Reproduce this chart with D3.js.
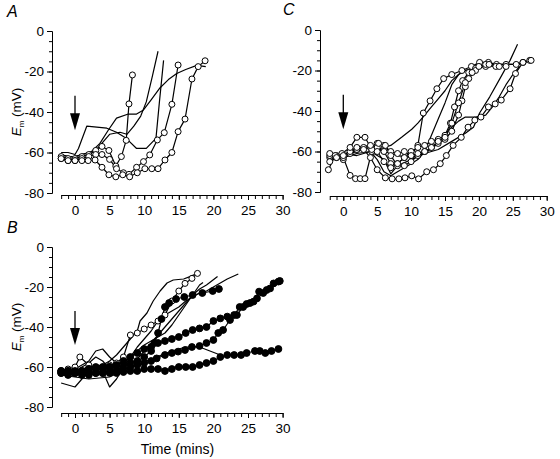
<!DOCTYPE html>
<html><head><meta charset="utf-8">
<script src="https://cdn.jsdelivr.net/npm/d3@7"></script>
<style>
body{margin:0;background:#fff;}
svg text{font-family:"Liberation Sans",Arial,sans-serif;}
</style></head>
<body><svg id="c" width="560" height="459"></svg>
<script>
// ---------- DATA ----------
const yTickLabels = ["0","-20","-40","-60","-80"];
const xTickLabels = ["0","5","10","15","20","25","30"];
const panelLetters = ["A","B","C"];
const arrowT = 0, arrowTop = -32, arrowTip = -49;

// Panel A
const a1 = [[-2,-63],[-1,-64],[0,-63],[1,-62],[2,-61],[3,-59],[3.9,-57],[4.9,-59],[5.9,-66.7],[6.7,-62],[7.4,-54],[7.8,-36],[8.3,-21.7]];
const a2 = [[-2,-62],[-1,-63],[0,-64],[1,-63],[2,-62],[3,-61],[3.9,-61],[5,-63.4],[6,-68],[7,-70],[7.8,-70.8],[8.9,-67.3],[9.9,-64.5],[10.8,-61.2],[11.9,-53.8],[12.9,-50.2],[14,-36.2],[14.9,-16.8]];
const a3 = [[-2,-63],[-1,-64],[0,-64],[1,-64],[1.9,-64],[2.9,-63.7],[3.9,-67.3],[4.9,-71],[5.9,-72],[6.9,-71],[7.9,-72],[9,-70],[10.1,-68],[11.1,-68],[12,-68],[13,-63.7],[14,-60],[14.9,-49.7],[15.9,-43.5],[16.9,-23.7],[17.8,-17.6],[18.8,-14.7]];
const a4 = [[-2,-61],[-1,-62],[0,-62],[1,-61],[2,-60],[2.4,-59.5],[3.6,-55.5],[4.8,-49],[6,-43],[7.7,-41],[8.9,-41],[9.9,-39],[11,-34],[12.3,-28],[13.5,-24],[14.7,-21],[16,-19],[17.6,-17],[18.9,-17.6]];
const a5 = [[-2,-60],[-1,-60],[0,-61],[0.5,-58],[1.7,-47],[4.6,-48],[6,-50],[7.4,-53],[8.9,-58],[10.3,-58],[11.7,-53],[12.2,-35],[12.8,-14.5]];
const a6 = [[-2,-61],[-1,-62],[0,-62],[1,-61],[2,-60],[3,-59],[4,-55],[5,-51],[6.5,-50],[7.5,-51],[8.5,-47],[9.5,-42],[10.3,-35],[11.2,-22],[12,-10]];

// Panel B
const b1 = [[-2,-62],[-1,-62],[0,-63],[1,-63],[2,-63],[3,-63],[4,-63],[5,-63],[6,-63],[7,-62.5],[8,-62],[9,-62],[10,-61],[11,-61],[12,-61],[13,-62],[14,-61],[15,-60],[16,-60],[17,-60],[18,-59],[19,-58],[20,-57],[21,-55],[22,-54],[23,-54],[24,-54],[24.8,-53],[26,-52],[26.7,-52],[27.5,-53],[28.4,-52],[29.4,-51]];
const b2 = [[-2,-63],[-1,-64],[0,-63],[1,-64],[2,-64],[3,-63],[4,-63],[5,-62],[6,-62],[7,-61],[8,-60],[9,-59],[10,-58],[11,-57],[11.8,-55.7],[13,-54],[14,-53],[14.9,-52.3],[15.9,-51.5],[16.9,-50],[18,-49.5],[19,-48],[20,-46.5],[20.7,-43],[21.4,-41.5],[22.4,-36.5],[23.4,-34],[24.3,-30],[25.3,-28],[26.3,-25.7],[27.2,-23],[28.2,-20.7],[29.6,-17]];
const b3 = [[-2,-62],[-1,-63],[0,-62],[1,-62],[2,-61],[3,-61],[4,-61],[5,-60],[6,-59],[7,-57],[8,-55],[9,-53],[10,-51],[11,-50],[12,-48],[13,-47],[14,-46],[15,-45],[16,-43],[17,-41.5],[18,-40.7],[19,-40],[20,-37],[21,-35.7],[22,-34.8],[23,-34],[23.8,-30],[24.8,-28.5],[25.8,-27.3],[26.6,-22.3],[27.7,-21.5],[28.7,-18.2],[29.4,-17.3]];
const b4 = [[-2,-63],[-1,-62],[0,-63],[1,-62],[2,-61],[3,-60],[4,-60],[5,-60],[6,-60],[7,-59],[8,-58],[9,-57],[10,-55],[11,-52],[11.5,-48],[12,-43],[12.5,-36],[13,-30],[13.6,-28],[14.6,-26],[15.8,-25],[17,-24],[18.4,-23],[19.9,-22],[20.8,-21]];
const b5 = [[-2,-62],[-1,-61],[0,-60],[0.7,-55],[2,-59],[3,-61],[4,-60],[5,-59],[6,-58],[7,-55],[8,-44],[9,-43],[10,-41],[11,-39],[12,-37],[13,-34],[14,-27],[15,-22],[15.9,-18.2],[16.9,-15.7],[17.7,-13.2]];
const bl1 = [[-2,-68],[0,-70],[1,-66],[2,-62],[3,-60],[4,-62],[5,-70],[6,-66],[7,-60],[8,-55],[9,-50],[10,-46],[11,-42],[12,-37],[13,-34],[14,-32],[15,-30],[16,-27],[17,-25],[18,-23],[19,-22],[20,-20],[21,-18],[22,-16],[23.6,-13.5]];
const bl2 = [[-2,-63],[0,-62],[2,-58],[3,-55],[4,-57],[5,-61],[6,-62],[7,-60],[8,-58],[9,-56],[10,-52],[11,-48],[12,-44],[13,-40],[14,-36],[15,-32],[16,-28],[17,-24],[18,-21],[19,-19],[20.6,-14.8]];
const bl3 = [[-2,-63],[0,-61],[2,-57],[3,-52],[4,-51],[5,-55],[6,-58],[7,-58],[8,-55],[9,-52],[10,-49],[11,-47],[12,-45],[13,-43],[14,-39],[15,-34],[16,-29],[17,-24],[18,-19],[18.5,-17.7]];
const bl4 = [[-2,-63],[0,-62],[2,-60],[4,-59],[5,-57],[6,-54],[7,-50],[8,-46],[9,-42],[9.4,-37],[10.4,-33],[11.3,-27],[12.3,-22],[13.3,-18],[14.2,-16.5],[15.7,-16],[16.6,-14.8],[17.7,-13.2]];
const bl5 = [[-2,-64],[2,-66],[5,-65],[8,-60],[11,-56],[14,-52],[16,-50],[18,-50],[19.5,-52],[21,-54]];

// Panel C
const c1 = [[-2,-63],[-1,-62],[0,-64],[1,-61],[2,-59],[3,-58],[4,-58],[5,-56],[6,-57],[7,-60],[8,-61],[9,-60],[10,-62],[11,-57],[11.8,-41],[12.8,-35],[13.8,-29],[14.8,-24],[16,-22],[17.5,-20],[18.9,-18],[20.1,-16],[21.4,-16],[22.6,-17],[24,-17],[25.5,-17],[26.5,-16],[27.5,-15]];
const c2 = [[-2,-65],[-1,-63],[0,-62],[1,-60],[2,-59],[3,-59],[4,-63],[5,-69],[6.2,-73],[7.2,-73.5],[8.2,-73.5],[9.1,-73],[10.1,-72],[11.1,-73.5],[12.3,-70],[13.3,-69],[14.3,-66],[15.2,-62],[16.2,-57],[17.4,-53],[18.4,-48],[19.4,-44.5],[20.3,-43],[21.4,-38],[22.4,-36.5],[23.3,-34.6],[24.6,-29],[25.4,-21.5],[26.5,-16],[27.7,-15]];
const c3 = [[-2.2,-69],[-1.2,-62],[0,-63],[1,-71.8],[1.8,-73.4],[2.5,-73.4],[3.2,-73.4],[4.2,-60],[5,-58],[6,-60],[7,-66],[8,-66],[9,-63],[10,-60],[11,-58],[12,-57],[13,-55],[14,-54],[15,-52],[15.8,-46],[16.4,-38],[17,-30],[17.6,-25],[18.5,-21],[19.5,-19],[21,-18],[22.5,-18],[24,-18]];
const c4 = [[-2,-62],[-1,-63],[-0.2,-61],[1,-58],[2,-53],[3.2,-53],[4.2,-59],[5.2,-56],[6.2,-57],[7,-62],[8,-67],[9,-67],[10,-65],[11,-62],[12,-60],[13,-58],[14,-56],[15,-54],[16,-50],[17,-42],[17.5,-35],[18,-28],[18.5,-24],[19.5,-20],[21,-17]];
const c5 = [[-2,-61],[0,-62],[2,-58],[4,-57],[5,-60],[6,-65],[7,-68],[8,-66],[9,-63],[10,-62],[11,-61],[12,-60],[13,-58],[14,-55],[15,-53],[16,-46],[17,-36],[18,-26],[19,-21],[20,-18],[21.5,-17],[23,-18]];
const cl1 = [[-2,-62],[0,-61],[2,-60],[4,-58],[6,-60],[8,-62],[10,-63],[12,-61],[14,-59],[16,-55],[18,-51],[19.2,-48],[20.1,-41],[21.6,-33],[23.1,-24],[24.6,-15],[25.7,-7]];
const cl2 = [[-2,-63],[0,-62],[2,-60],[4,-58],[5,-59],[6,-58],[7,-57],[8.6,-53],[10.1,-49],[11,-46],[12,-42],[13,-38],[14,-34],[15,-30],[16,-25],[17,-22],[18,-20],[19,-19],[20,-18],[22,-17],[24,-17],[26,-17],[27,-16]];
const cl3 = [[-2,-64],[0,-63],[2,-61],[4,-60],[6,-64],[7,-71],[8,-67],[10,-64],[12,-61],[14,-56],[15,-52],[16,-48],[17,-45],[18,-43],[19.5,-43],[21,-42],[22,-38],[23,-33],[24,-27],[25,-22],[26,-18]];
const cl4 = [[-2,-62],[0,-61],[2,-62],[4,-60],[5,-64],[6,-70],[7,-72],[8,-70],[9,-68],[10,-66],[11,-64],[12,-60],[13,-52],[14,-44],[15,-36],[16,-27],[17,-22],[18,-20],[19,-19]];

// ---------- DRAW ----------
const svg = d3.select("#c");
const panels = [
  {letter:"A", lx:7, ly:17, axX:52, x0:75, x30:282.6, yTop:31, yBot:193, xAxisY:195, title:true,
   series:[{d:a4,m:"none"},{d:a5,m:"none"},{d:a6,m:"none"},{d:a1,m:"open"},{d:a2,m:"open"},{d:a3,m:"open"}]},
  {letter:"B", lx:7, ly:233, axX:52, x0:75, x30:282.6, yTop:247, yBot:407, xAxisY:413, title:true, xTitle:true,
   series:[{d:bl1,m:"none"},{d:bl2,m:"none"},{d:bl3,m:"none"},{d:bl4,m:"none"},{d:bl5,m:"none"},
           {d:b5,m:"open"},{d:b1,m:"filled"},{d:b2,m:"filled"},{d:b3,m:"filled"},{d:b4,m:"filled"}]},
  {letter:"C", lx:283, ly:15, axX:320, x0:343.3, x30:546.7, yTop:30, yBot:192, xAxisY:196, title:false,
   series:[{d:cl1,m:"none"},{d:cl2,m:"none"},{d:cl3,m:"none"},{d:cl4,m:"none"},
           {d:c1,m:"open"},{d:c2,m:"open"},{d:c3,m:"open"},{d:c4,m:"open"},{d:c5,m:"open"}]}
];

panels.forEach(p => {
  const x = d3.scaleLinear().domain([0,30]).range([p.x0, p.x30]);
  const xs = d3.scaleLinear().domain([-2,30]).range([x(-2), x(30)]);
  const y = d3.scaleLinear().domain([-80,0]).range([p.yBot, p.yTop]);
  const g = svg.append("g");

  const yMinor = g.append("g").attr("transform",`translate(${p.axX},0)`)
    .call(d3.axisLeft(y).tickValues(d3.range(-80,1,5)).tickSize(3).tickSizeOuter(0).tickFormat(""));
  const yMajor = g.append("g").attr("transform",`translate(${p.axX},0)`)
    .call(d3.axisLeft(y).tickValues([0,-20,-40,-60,-80]).tickSize(5).tickSizeOuter(0)
      .tickFormat((d,i)=>yTickLabels[i]).tickPadding(3));
  const xMinor = g.append("g").attr("transform",`translate(0,${p.xAxisY})`)
    .call(d3.axisBottom(xs).tickValues(d3.range(-2,31,1)).tickSize(4).tickSizeOuter(0).tickFormat(""));
  const xMajor = g.append("g").attr("transform",`translate(0,${p.xAxisY})`)
    .call(d3.axisBottom(xs).tickValues([0,5,10,15,20,25,30]).tickSize(5).tickSizeOuter(0)
      .tickFormat((d,i)=>xTickLabels[i]).tickPadding(5));
  [yMinor,yMajor,xMinor,xMajor].forEach(a=>{
    a.selectAll("path,line").attr("stroke","#000").attr("stroke-width",1);
    a.selectAll("text").attr("font-size",13.5).attr("fill","#000");
  });

  g.append("text").attr("x",p.lx).attr("y",p.ly).attr("font-size",16)
    .attr("font-style","italic").text(p.letter);

  if (p.title) {
    const t = g.append("text").attr("transform",`translate(${p.axX-31},${(p.yTop+p.yBot)/2}) rotate(-90)`)
      .attr("text-anchor","middle").attr("font-size",13.5);
    t.append("tspan").attr("font-style","italic").text("E");
    t.append("tspan").attr("font-size",8).attr("dy",3).text("m");
    t.append("tspan").attr("dy",-3).text(" (mV)");
  }
  if (p.xTitle) {
    g.append("text").attr("x",x(14.8)).attr("y",p.xAxisY+41).attr("text-anchor","middle")
      .attr("font-size",14).text("Time (mins)");
  }

  const ax = x(arrowT), yt = y(arrowTop), yh = y(arrowTip);
  g.append("line").attr("x1",ax).attr("x2",ax).attr("y1",yt).attr("y2",yh-14)
    .attr("stroke","#000").attr("stroke-width",1.3);
  g.append("path").attr("d",`M${ax-5},${yh-17}L${ax+5},${yh-17}L${ax},${yh}Z`).attr("fill","#000");

  const line = d3.line().x(d=>x(d[0])).y(d=>y(d[1]));
  p.series.forEach(s => {
    g.append("path").datum(s.d).attr("d",line).attr("fill","none")
      .attr("stroke","#000").attr("stroke-width",1.2).attr("stroke-linejoin","round");
  });
  p.series.forEach(s => {
    if (s.m === "none") return;
    g.selectAll(null).data(s.d).enter().append("circle")
      .attr("cx",d=>x(d[0])).attr("cy",d=>y(d[1]))
      .attr("r", s.m==="filled"?3.4:3)
      .attr("fill", s.m==="filled"?"#000":"#fff")
      .attr("stroke","#000").attr("stroke-width",1);
  });
});
</script></body></html>
